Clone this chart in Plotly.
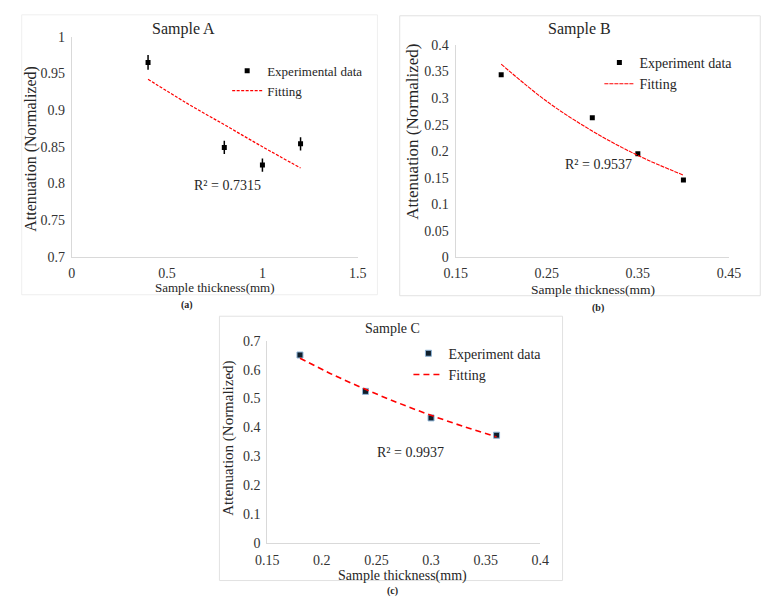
import plotly.graph_objects as go

W, H = 781, 610
FONT = "Liberation Serif"

# ---------------- data ----------------
# Sample A
a_x = [0.4, 0.8, 1.0, 1.2]
a_y = [0.965, 0.849, 0.825, 0.854]
a_err = [0.010, 0.009, 0.009, 0.009]
a_fit_x = [0.4, 0.6, 0.8, 1.0, 1.2]
a_fit_y = [0.942, 0.910, 0.880, 0.850, 0.821]
a_xticks = [0, 0.5, 1, 1.5]
a_xtext = ["0", "0.5", "1", "1.5"]
a_yticks = [0.7, 0.75, 0.8, 0.85, 0.9, 0.95, 1.0]
a_ytext = ["0.7", "0.75", "0.8", "0.85", "0.9", "0.95", "1"]

# Sample B
b_x = [0.2, 0.3, 0.35, 0.4]
b_y = [0.344, 0.263, 0.195, 0.146]
b_fit_x = [0.2, 0.25, 0.3, 0.35, 0.4]
b_fit_y = [0.364, 0.294, 0.238, 0.192, 0.155]
b_xticks = [0.15, 0.25, 0.35, 0.45]
b_xtext = ["0.15", "0.25", "0.35", "0.45"]
b_yticks = [0, 0.05, 0.1, 0.15, 0.2, 0.25, 0.3, 0.35, 0.4]
b_ytext = ["0", "0.05", "0.1", "0.15", "0.2", "0.25", "0.3", "0.35", "0.4"]

# Sample C
c_x = [0.18, 0.24, 0.30, 0.36]
c_y = [0.651, 0.525, 0.433, 0.373]
c_fit_x = [0.18, 0.21, 0.24, 0.27, 0.30, 0.33, 0.36]
c_fit_y = [0.640, 0.583, 0.532, 0.485, 0.442, 0.403, 0.367]
c_xticks = [0.15, 0.2, 0.25, 0.3, 0.35, 0.4]
c_xtext = ["0.15", "0.2", "0.25", "0.3", "0.35", "0.4"]
c_yticks = [0, 0.1, 0.2, 0.3, 0.4, 0.5, 0.6, 0.7]
c_ytext = ["0", "0.1", "0.2", "0.3", "0.4", "0.5", "0.6", "0.7"]


def px(x):
    return x / W


def py(y):
    return 1 - y / H


fig = go.Figure()

# ---- Sample A ----
fig.add_trace(go.Scatter(
    x=a_x, y=a_y, mode="markers", name="Experimental data",
    marker=dict(symbol="square", size=5, color="black"),
    error_y=dict(type="data", array=a_err, color="black", thickness=1.5, width=0),
    xaxis="x", yaxis="y", legend="legend"))
fig.add_trace(go.Scatter(
    x=a_fit_x, y=a_fit_y, mode="lines", name="Fitting", line_shape="spline",
    line=dict(color="#ff0000", width=1.2, dash="3px,1.5px"),
    xaxis="x", yaxis="y", legend="legend"))

# ---- Sample B ----
fig.add_trace(go.Scatter(
    x=b_x, y=b_y, mode="markers", name="Experiment data",
    marker=dict(symbol="square", size=5, color="black"),
    xaxis="x2", yaxis="y2", legend="legend2"))
fig.add_trace(go.Scatter(
    x=b_fit_x, y=b_fit_y, mode="lines", name="Fitting", line_shape="spline",
    line=dict(color="#ff0000", width=1.1, dash="4px,1px"),
    xaxis="x2", yaxis="y2", legend="legend2"))

# ---- Sample C ----
fig.add_trace(go.Scatter(
    x=c_x, y=c_y, mode="markers", name="Experiment data",
    marker=dict(symbol="square", size=6, color="#0f1f2c",
                line=dict(color="#8fb4d6", width=1)),
    xaxis="x3", yaxis="y3", legend="legend3"))
fig.add_trace(go.Scatter(
    x=c_fit_x, y=c_fit_y, mode="lines", name="Fitting", line_shape="spline",
    line=dict(color="#ff0000", width=1.6, dash="6px,4px"),
    xaxis="x3", yaxis="y3", legend="legend3"))

axis_common = dict(showgrid=False, zeroline=False, showline=True,
                   linecolor="#d9d9d9", linewidth=1, ticks="",
                   tickfont=dict(family=FONT, size=14, color="#333333"),
                   tickmode="array")

fig.update_layout(
    width=W, height=H, margin=dict(l=0, r=0, t=0, b=0),
    paper_bgcolor="white", plot_bgcolor="white",
    xaxis=dict(domain=[px(61.7), px(356.7)], anchor="y", range=[0, 1.5],
               tickvals=a_xticks, ticktext=a_xtext, ticklabelstandoff=3, **axis_common),
    yaxis=dict(domain=[py(256), py(30.5)], anchor="x", range=[0.7, 1.0],
               tickvals=a_yticks, ticktext=a_ytext, ticklabelstandoff=3, **axis_common),
    xaxis2=dict(domain=[px(457.7), px(739.7)], anchor="y2", range=[0.15, 0.45],
                tickvals=b_xticks, ticktext=b_xtext, ticklabelstandoff=3, **axis_common),
    yaxis2=dict(domain=[py(256.7), py(39)], anchor="x2", range=[0, 0.4],
                tickvals=b_yticks, ticktext=b_ytext, ticklabelstandoff=3, **axis_common),
    xaxis3=dict(domain=[px(263.3), px(545)], anchor="y3", range=[0.15, 0.4],
                tickvals=c_xticks, ticktext=c_xtext, ticklabelstandoff=4, **axis_common),
    yaxis3=dict(domain=[py(549.3), py(342.3)], anchor="x3", range=[0, 0.7],
                tickvals=c_yticks, ticktext=c_ytext, ticklabelstandoff=3, **axis_common),
    legend=dict(x=px(222), y=py(50), xanchor="left", yanchor="top",
                bgcolor="rgba(0,0,0,0)", font=dict(family=FONT, size=13, color="#262626")),
    legend2=dict(x=px(606), y=py(41), xanchor="left", yanchor="top",
                 bgcolor="rgba(0,0,0,0)", font=dict(family=FONT, size=14, color="#262626")),
    legend3=dict(x=px(409), y=py(339), xanchor="left", yanchor="top",
                 bgcolor="rgba(0,0,0,0)", font=dict(family=FONT, size=14, color="#262626")),
)

annots = [
    # titles
    ("Sample A", 177, 23, 16, 0),
    ("Sample B", 585, 23, 16, 0),
    ("Sample C", 393, 330, 14, 0),
    # x titles
    ("Sample thickness(mm)", 209, 288, 13, 0),
    ("Sample thickness(mm)", 599.5, 290, 13.5, 0),
    ("Sample thickness(mm)", 402.5, 583, 14, 0),
    # y titles
    ("Attenuation (Normalized)", 20, 145, 16, -90),
    ("Attenuation (Normalized)", 413, 127.5, 17, -90),
    ("Attenuation (Normalized)", 223, 442.5, 15, -90),
    # R^2
    ("R² = 0.7315", 222, 183, 14, 0),
    ("R² = 0.9537", 605, 161, 14, 0),
    ("R² = 0.9937", 411, 456.7, 14, 0),
    # panel labels
    ("<b>(a)</b>", 181, 305, 10, 0),
    ("<b>(b)</b>", 605, 309, 10, 0),
    ("<b>(c)</b>", 393, 599, 10, 0),
]
for text, x, y, size, angle in annots:
    fig.add_annotation(text=text, x=px(x), y=py(y), xref="paper", yref="paper",
                       xanchor="center", yanchor="middle", showarrow=False,
                       textangle=angle,
                       font=dict(family=FONT, size=size, color="#262626"))

# panel frames
frames = [(10, 8, 377, 295, "#efefef"), (400, 9, 772, 296, "#e2e2e2"),
          (214, 317, 568, 588, "#e2e2e2")]
for x0, y0, x1, y1, col in frames:
    fig.add_shape(type="rect", xref="paper", yref="paper",
                  x0=px(x0), x1=px(x1), y0=py(y1), y1=py(y0),
                  line=dict(color=col, width=1), fillcolor="rgba(0,0,0,0)", layer="below")

fig.write_html("out.html")
